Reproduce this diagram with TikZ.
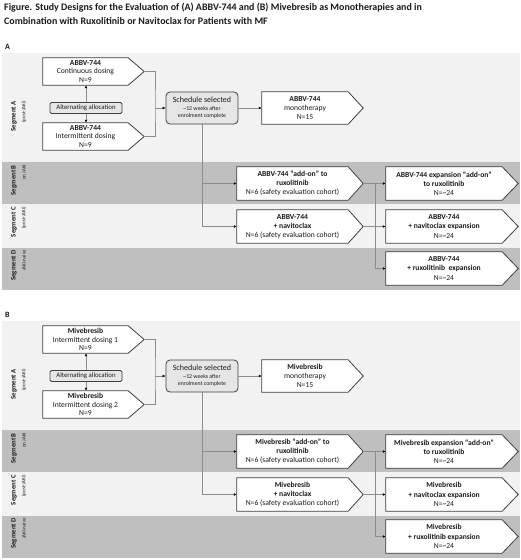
\documentclass[tikz,border=0pt]{standalone}
\usepackage{fontspec}
\setmainfont{Carlito}
\usetikzlibrary{calc,arrows.meta}
\definecolor{bandL}{HTML}{F2F2F2}
\definecolor{bandD}{HTML}{BFBFBF}
\definecolor{boxE}{HTML}{E7E6E6}
\definecolor{edge}{HTML}{404040}
\definecolor{conncol}{HTML}{8C8C8C}
\definecolor{txt}{HTML}{1A1A1A}
\tikzset{
  titletext/.style={inner sep=0pt, align=left, font=\fontsize{9.95}{14}\selectfont\bfseries, text=txt},
  paneltext/.style={inner sep=0pt, font=\fontsize{8}{9}\selectfont\bfseries, text=txt},
  boxtop/.style={rectangle, fill=white, inner sep=0pt, align=center, font=\fontsize{7.6}{8.6}\selectfont, text=txt},
  boxlow/.style={rectangle, fill=white, inner sep=0pt, align=center, font=\fontsize{7.6}{9.3}\selectfont, text=txt},
  outline/.style={draw=edge, line width=0.8pt},
  altbox/.style={rectangle, rounded corners=1.5pt, draw=edge, line width=0.8pt, fill=boxE, inner sep=0pt, minimum width=72, minimum height=11, font=\fontsize{6.8}{7}\selectfont, text=txt},
  schedbox/.style={rectangle, rounded corners=4pt, draw=edge, line width=0.8pt, fill=boxE, inner sep=0pt, minimum width=72, minimum height=32, align=center, font=\fontsize{8}{9}\selectfont, text=txt},
  seglab/.style={inner sep=0pt, rotate=90, anchor=east, font=\fontsize{6.8}{7}\selectfont\bfseries, text=txt},
  segsub/.style={inner sep=0pt, rotate=90, anchor=east, font=\fontsize{5}{5.5}\selectfont, text=txt},
  conn/.style={draw=conncol, line width=0.9pt},
  arr/.style={conn, -{Latex[length=3pt,width=2.8pt,color=black]}},
}
\newcommand\pentagon[2]{%
  \fill[white] (#1.north east) -- ([xshift=#2]#1.east) -- (#1.south east) -- cycle;
  \draw[outline] (#1.north west) -- (#1.north east) -- ([xshift=#2]#1.east) -- (#1.south east) -- (#1.south west) -- cycle;
  \coordinate (#1-tip) at ([xshift=#2]#1.east);}
\newcommand\tinytxt{\fontsize{5.8}{6.8}\selectfont}
\begin{document}
\begin{tikzpicture}[x=1pt,y=-1pt]
\useasboundingbox (0,0) rectangle (520,560);
\fill[white] (0,0) rectangle (520,560);
\node[titletext, anchor=north west] (title) at (4,3) {Figure. Study Designs for the Evaluation of (A) ABBV-744 and (B) Mivebresib as Monotherapies and in\\Combination with Ruxolitinib or Navitoclax for Patients with MF};

% ---------------- Panel A ----------------
\node[paneltext, anchor=west] (pA) at (5,47) {A};
\fill[bandL] (2,53) rectangle (520,162);
\fill[bandD] (2,162) rectangle (520,204);
\fill[bandL] (2,204) rectangle (520,248);
\fill[bandD] (2,248) rectangle (520,290);
\node[seglab] (A-lA) at (14,101) {Segment A};
\node[segsub] (A-sA) at (24,101) {(post-JAKi)};
\node[seglab] (A-lB) at (14,165) {Segment B};
\node[segsub] (A-sB) at (24,165) {on JAKi};
\node[seglab] (A-lC) at (14,207) {Segment C};
\node[segsub] (A-sC) at (24,207) {(post-JAKi)};
\node[seglab] (A-lD) at (14,250) {Segment D};
\node[segsub] (A-sD) at (24,250) {JAKi-naive};

\node[boxtop, minimum width=85, minimum height=27] (A-b1) at (85.5,71.5) {\textbf{ABBV-744}\\Continuous dosing\\N=9};
\pentagon{A-b1}{16}
\node[boxtop, minimum width=85, minimum height=27] (A-b2) at (85.5,136.5) {\textbf{ABBV-744}\\Intermittent dosing\\N=9};
\pentagon{A-b2}{16}
\node[altbox] (A-alt) at (86,108) {Alternating allocation};
\draw[arr] (A-alt.north) -- (A-alt.north |- A-b1.south);
\draw[arr] (A-alt.south) -- (A-alt.south |- A-b2.north);
\node[schedbox] (A-s) at (202,108) {Schedule selected\\[-1pt]{\tinytxt \textasciitilde12 weeks after}\\[-2pt]{\tinytxt enrolment complete}};
\coordinate (A-j1) at (155,108);
\draw[conn] (A-b1-tip) -| (A-j1) |- (A-b2-tip);
\draw[arr] (A-j1) -- (A-s.west);
\node[boxlow, minimum width=86, minimum height=32] (A-m) at (305,108) {\textbf{ABBV-744}\\monotherapy\\N=15};
\pentagon{A-m}{15}
\draw[arr] (A-s.east) -- (A-m.west);

\node[boxlow, minimum width=111, minimum height=33] (A-ad) at (292.5,183.5) {\textbf{ABBV-744 “add-on” to}\\\textbf{ruxolitinib}\\N=6 (safety evaluation cohort)};
\pentagon{A-ad}{15}
\node[boxlow, minimum width=111, minimum height=33] (A-nv) at (292.5,226.5) {\textbf{ABBV-744}\\\textbf{+ navitoclax}\\N=6 (safety evaluation cohort)};
\pentagon{A-nv}{15}
\node[boxlow, minimum width=116, minimum height=33] (A-eB) at (444,183.5) {\textbf{ABBV-744 expansion “add-on”}\\\textbf{to ruxolitinib}\\N=\textasciitilde24};
\pentagon{A-eB}{16}
\node[boxlow, minimum width=116, minimum height=33] (A-eC) at (444,226.5) {\textbf{ABBV-744}\\\textbf{+ navitoclax expansion}\\N=\textasciitilde24};
\pentagon{A-eC}{16}
\node[boxlow, minimum width=116, minimum height=33] (A-eD) at (444,268.5) {\textbf{ABBV-744}\\\textbf{+ ruxolitinib\ \ expansion}\\N=\textasciitilde24};
\pentagon{A-eD}{16}

\draw[arr] (A-s.south) |- (A-nv.west);
\draw[arr] (A-s.south |- A-ad.west) -- (A-ad.west);
\coordinate (A-j2) at (375,183.5);
\draw[arr] (A-ad-tip) -- (A-eB.west);
\draw[arr] (A-j2) |- (A-eD.west);
\draw[arr] (A-nv-tip) -- (A-eC.west);

% ---------------- Panel B ----------------
\begin{scope}[yshift=-268pt]
\node[paneltext, anchor=west] (pB) at (5,47) {B};
\fill[bandL] (2,53) rectangle (520,162);
\fill[bandD] (2,162) rectangle (520,204);
\fill[bandL] (2,204) rectangle (520,248);
\fill[bandD] (2,248) rectangle (520,290);
\node[seglab] (B-lA) at (14,101) {Segment A};
\node[segsub] (B-sA) at (24,101) {(post-JAKi)};
\node[seglab] (B-lB) at (14,165) {Segment B};
\node[segsub] (B-sB) at (24,165) {on JAKi};
\node[seglab] (B-lC) at (14,207) {Segment C};
\node[segsub] (B-sC) at (24,207) {(post-JAKi)};
\node[seglab] (B-lD) at (14,250) {Segment D};
\node[segsub] (B-sD) at (24,250) {JAKi-naive};

\node[boxtop, minimum width=85, minimum height=27] (B-b1) at (85.5,71.5) {\textbf{Mivebresib}\\Intermittent dosing 1\\N=9};
\pentagon{B-b1}{16}
\node[boxtop, minimum width=85, minimum height=27] (B-b2) at (85.5,136.5) {\textbf{Mivebresib}\\Intermittent dosing 2\\N=9};
\pentagon{B-b2}{16}
\node[altbox] (B-alt) at (86,108) {Alternating allocation};
\draw[arr] (B-alt.north) -- (B-alt.north |- B-b1.south);
\draw[arr] (B-alt.south) -- (B-alt.south |- B-b2.north);
\node[schedbox] (B-s) at (202,108) {Schedule selected\\[-1pt]{\tinytxt \textasciitilde12 weeks after}\\[-2pt]{\tinytxt enrolment complete}};
\coordinate (B-j1) at (155,108);
\draw[conn] (B-b1-tip) -| (B-j1) |- (B-b2-tip);
\draw[arr] (B-j1) -- (B-s.west);
\node[boxlow, minimum width=86, minimum height=32] (B-m) at (305,108) {\textbf{Mivebresib}\\monotherapy\\N=15};
\pentagon{B-m}{15}
\draw[arr] (B-s.east) -- (B-m.west);

\node[boxlow, minimum width=111, minimum height=33] (B-ad) at (292.5,183.5) {\textbf{Mivebresib “add-on” to}\\\textbf{ruxolitinib}\\N=6 (safety evaluation cohort)};
\pentagon{B-ad}{15}
\node[boxlow, minimum width=111, minimum height=33] (B-nv) at (292.5,226.5) {\textbf{Mivebresib}\\\textbf{+ navitoclax}\\N=6 (safety evaluation cohort)};
\pentagon{B-nv}{15}
\node[boxlow, minimum width=116, minimum height=33] (B-eB) at (444,183.5) {\textbf{Mivebresib expansion “add-on”}\\\textbf{to ruxolitinib}\\N=\textasciitilde24};
\pentagon{B-eB}{16}
\node[boxlow, minimum width=116, minimum height=33] (B-eC) at (444,226.5) {\textbf{Mivebresib}\\\textbf{+ navitoclax expansion}\\N=\textasciitilde24};
\pentagon{B-eC}{16}
\node[boxlow, minimum width=116, minimum height=33] (B-eD) at (444,268.5) {\textbf{Mivebresib}\\\textbf{+ ruxolitinib expansion}\\N=\textasciitilde24};
\pentagon{B-eD}{16}

\draw[arr] (B-s.south) |- (B-nv.west);
\draw[arr] (B-s.south |- B-ad.west) -- (B-ad.west);
\coordinate (B-j2) at (375,183.5);
\draw[arr] (B-ad-tip) -- (B-eB.west);
\draw[arr] (B-j2) |- (B-eD.west);
\draw[arr] (B-nv-tip) -- (B-eC.west);
\end{scope}
\end{tikzpicture}
\end{document}
